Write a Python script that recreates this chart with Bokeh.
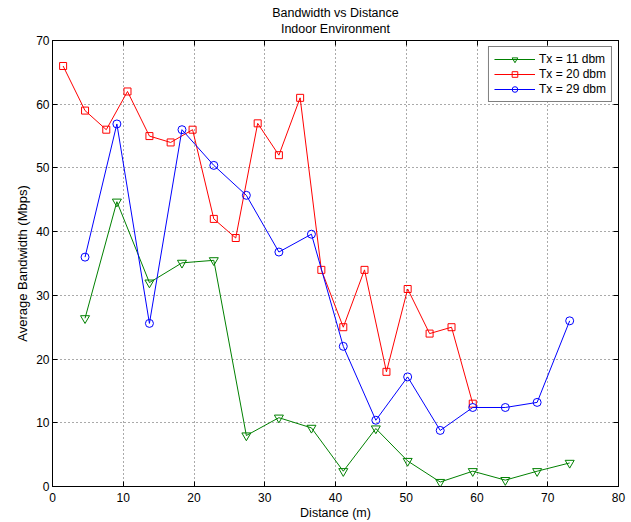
from bokeh.plotting import figure
from bokeh.models import Title, LinearAxis, Range1d, FixedTicker, CustomJSTickFormatter
from bokeh.embed import file_html
from bokeh.resources import INLINE

# ---- data ----
red_x = [1.5, 4.6, 7.6, 10.6, 13.7, 16.7, 19.8, 22.8, 25.9, 29.0, 32.0, 35.0, 38.0, 41.1, 44.1, 47.2, 50.2, 53.3, 56.4, 59.4]
red_y = [66, 59, 56, 62, 55, 54, 56, 42, 39, 57, 52, 61, 34, 25, 34, 18, 31, 24, 25, 13]

blue_x = [4.6, 9.1, 13.7, 18.3, 22.8, 27.4, 32.0, 36.6, 41.1, 45.7, 50.2, 54.8, 59.4, 64.0, 68.5, 73.1]
blue_y = [36.0, 56.9, 25.6, 56.0, 50.4, 45.7, 36.8, 39.6, 22.0, 10.4, 17.2, 8.8, 12.4, 12.4, 13.2, 26.0]

green_x = [4.6, 9.1, 13.7, 18.3, 22.8, 27.4, 32.0, 36.6, 41.1, 45.7, 50.2, 54.8, 59.4, 64.0, 68.5, 73.1]
green_y = [26.4, 44.7, 32.0, 35.1, 35.5, 8.0, 10.8, 9.2, 2.4, 9.1, 4.0, 0.7, 2.4, 1.0, 2.4, 3.7]

x_ticks = [0, 10, 20, 30, 40, 50, 60, 70, 80]
y_ticks = [0, 10, 20, 30, 40, 50, 60, 70]

title_lines = ["Bandwidth vs Distance", "Indoor Environment"]
series_names = ["Tx = 11 dbm", "Tx = 20 dbm", "Tx = 29 dbm"]

FONT = "Liberation Sans"
W, H = 631, 522
BL, BR, BT, BB = 52, 13, 40, 36

p = figure(width=W, height=H, x_range=Range1d(0, 80), y_range=Range1d(0, 70),
           output_backend="svg", toolbar_location=None,
           min_border_left=BL, min_border_right=BR, min_border_top=BT, min_border_bottom=BB,
           background_fill_color="white", border_fill_color="white")

p.title = Title(text="\n".join(title_lines), align="center", text_font=FONT,
                text_font_size="12.5px", text_font_style="normal", text_color="black",
                text_line_height=1.15, standoff=8)
try:
    p.title.text_align = "center"
except Exception:
    pass

p.outline_line_color = "black"
p.outline_line_width = 1

xa = p.below[0]
ya = p.left[0]

for ax in (xa, ya):
    ax.major_tick_in = 5
    ax.major_tick_out = 0
    ax.minor_tick_in = 0
    ax.minor_tick_out = 0
    ax.axis_line_color = "black"
    ax.major_tick_line_color = "black"
    ax.major_label_text_font = FONT
    ax.major_label_text_font_size = "12px"
    ax.major_label_text_color = "black"
    ax.axis_label_text_font = FONT
    ax.axis_label_text_font_style = "normal"
    ax.axis_label_text_color = "black"

xa.ticker = FixedTicker(ticks=x_ticks)
ya.ticker = FixedTicker(ticks=y_ticks)
xa.axis_label = "Distance (m)"
ya.axis_label = "Average Bandwidth (Mbps)"
xa.axis_label_text_font_size = "12.5px"
ya.axis_label_text_font_size = "13px"
xa.major_label_standoff = 6
xa.axis_label_standoff = 1
ya.major_label_standoff = 3
ya.axis_label_standoff = 3

blank = CustomJSTickFormatter(code="return ''")
top_ax = LinearAxis(ticker=FixedTicker(ticks=x_ticks), formatter=blank,
                    major_tick_in=5, major_tick_out=0, minor_tick_in=0, minor_tick_out=0,
                    axis_line_color="black", major_tick_line_color="black",
                    major_label_text_font_size="1px", major_label_standoff=0)
right_ax = LinearAxis(ticker=FixedTicker(ticks=y_ticks), formatter=blank,
                      major_tick_in=5, major_tick_out=0, minor_tick_in=0, minor_tick_out=0,
                      axis_line_color="black", major_tick_line_color="black",
                      major_label_text_font_size="1px", major_label_standoff=0)
p.add_layout(top_ax, "above")
p.add_layout(right_ax, "right")

p.xgrid.ticker = FixedTicker(ticks=x_ticks)
p.ygrid.ticker = FixedTicker(ticks=y_ticks)
for g in (p.xgrid[0], p.ygrid[0]):
    g.grid_line_color = "#555555"
    g.grid_line_dash = "1 3"
    g.grid_line_width = 1

GREEN = "#008000"
RED = "#ff0000"
BLUE = "#0000ff"

p.line(green_x, green_y, line_color=GREEN, line_width=1, legend_label=series_names[0])
p.scatter(green_x, green_y, marker="inverted_triangle", size=9, line_color=GREEN,
          fill_color=None, line_width=1, legend_label=series_names[0])

p.line(red_x, red_y, line_color=RED, line_width=1, legend_label=series_names[1])
p.scatter(red_x, red_y, marker="square", size=7, line_color=RED,
          fill_color=None, line_width=1, legend_label=series_names[1])

p.line(blue_x, blue_y, line_color=BLUE, line_width=1, legend_label=series_names[2])
p.scatter(blue_x, blue_y, marker="circle", size=8, line_color=BLUE,
          fill_color=None, line_width=1, legend_label=series_names[2])

lg = p.legend[0]
lg.location = "top_right"
lg.margin = 6
lg.padding = 5
lg.spacing = 1
lg.label_height = 14
lg.glyph_height = 14
lg.glyph_width = 41
lg.label_standoff = 4
lg.label_text_font = FONT
lg.label_text_font_size = "12px"
lg.label_text_color = "black"
lg.border_line_color = "black"
lg.border_line_width = 1
lg.background_fill_color = "white"
lg.background_fill_alpha = 1

open("out.html", "w").write(file_html(p, INLINE))
